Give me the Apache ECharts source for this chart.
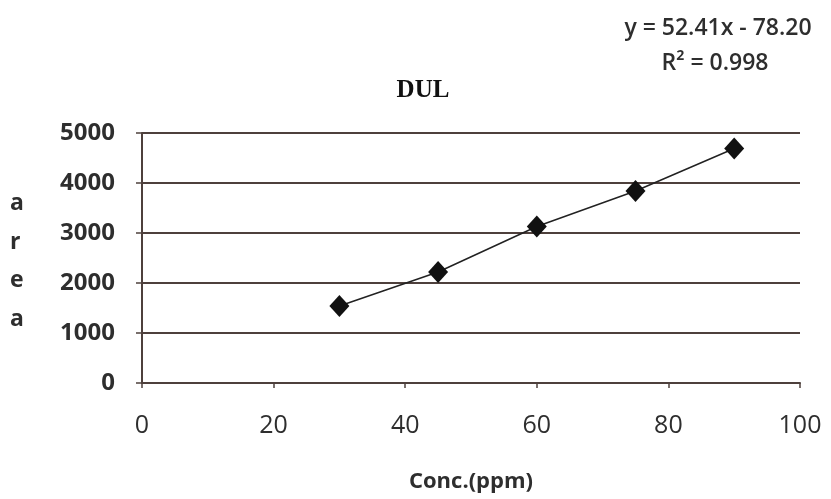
<!DOCTYPE html>
<html><head><meta charset="utf-8">
<script src="https://cdn.jsdelivr.net/npm/echarts@6/dist/echarts.min.js"></script>
<style>html,body{margin:0;padding:0;background:#fff}#c{width:831px;height:499px}</style>
</head><body><div id="c"></div>
<script>
const concentrations = [30, 45, 60, 75, 90];
const areas = [1540, 2220, 3130, 3840, 4690];
const xTicks = [0, 20, 40, 60, 80, 100];
const yTicks = [0, 1000, 2000, 3000, 4000, 5000];
const chartTitle = 'DUL';
const equationText = 'y = 52.41x - 78.20';
const r2Text = 'R² = 0.998';
const xName = 'Conc.(ppm)';
const yNameLetters = ['a', 'r', 'e', 'a'];

const chart = echarts.init(document.getElementById('c'), null, {renderer: 'canvas'});
const lineCol = '#4e403c';
const textCol = '#2e2e2e';
chart.setOption({
  animation: false,
  backgroundColor: '#fff',
  title: [
    {text: chartTitle, left: 418, top: 73, textAlign: 'center',
     textStyle: {fontFamily: 'Liberation Serif', fontWeight: 'bold', fontSize: 25, color: '#111'}},
    {text: equationText, left: 713, top: 12, textAlign: 'center',
     textStyle: {fontFamily: 'Open Sans', fontWeight: 600, fontSize: 23, color: textCol}},
    {text: r2Text, left: 710, top: 47, textAlign: 'center',
     textStyle: {fontFamily: 'Open Sans', fontWeight: 600, fontSize: 23, color: textCol}}
  ],
  graphic: yNameLetters.map((ch, i) => ({
    type: 'text', left: 10, top: 192 + i * 38.5,
    style: {text: ch, fontFamily: 'Open Sans', fontWeight: 'bold', fontSize: 23, fill: textCol}
  })),
  grid: {left: 142, right: 31, top: 133, bottom: 116},
  xAxis: {
    type: 'value', min: xTicks[0], max: xTicks[xTicks.length - 1], interval: 20,
    name: xName, nameLocation: 'middle', nameGap: 88,
    nameTextStyle: {fontFamily: 'Open Sans', fontWeight: 'bold', fontSize: 22, color: textCol},
    axisLine: {show: true, lineStyle: {color: lineCol, width: 2}},
    axisTick: {show: true, inside: false, length: 5, lineStyle: {color: lineCol, width: 1.5}},
    axisLabel: {margin: 30, fontFamily: 'Open Sans', fontSize: 25, color: textCol},
    splitLine: {show: false}
  },
  yAxis: {
    type: 'value', min: yTicks[0], max: yTicks[yTicks.length - 1], interval: 1000,
    axisLine: {show: true, lineStyle: {color: lineCol, width: 2}},
    axisTick: {show: true, length: 6, lineStyle: {color: lineCol, width: 1.5}},
    axisLabel: {margin: 27, fontFamily: 'Open Sans', fontWeight: 'bold', fontSize: 24, color: textCol,
      formatter: v => String(v)},
    splitLine: {show: true, lineStyle: {color: lineCol, width: 1.8}}
  },
  series: [{
    type: 'line',
    data: concentrations.map((x, i) => [x, areas[i]]),
    symbol: 'diamond', symbolSize: [20, 22],
    itemStyle: {color: '#111'},
    lineStyle: {color: '#222', width: 1.5}
  }]
});
</script></body></html>
